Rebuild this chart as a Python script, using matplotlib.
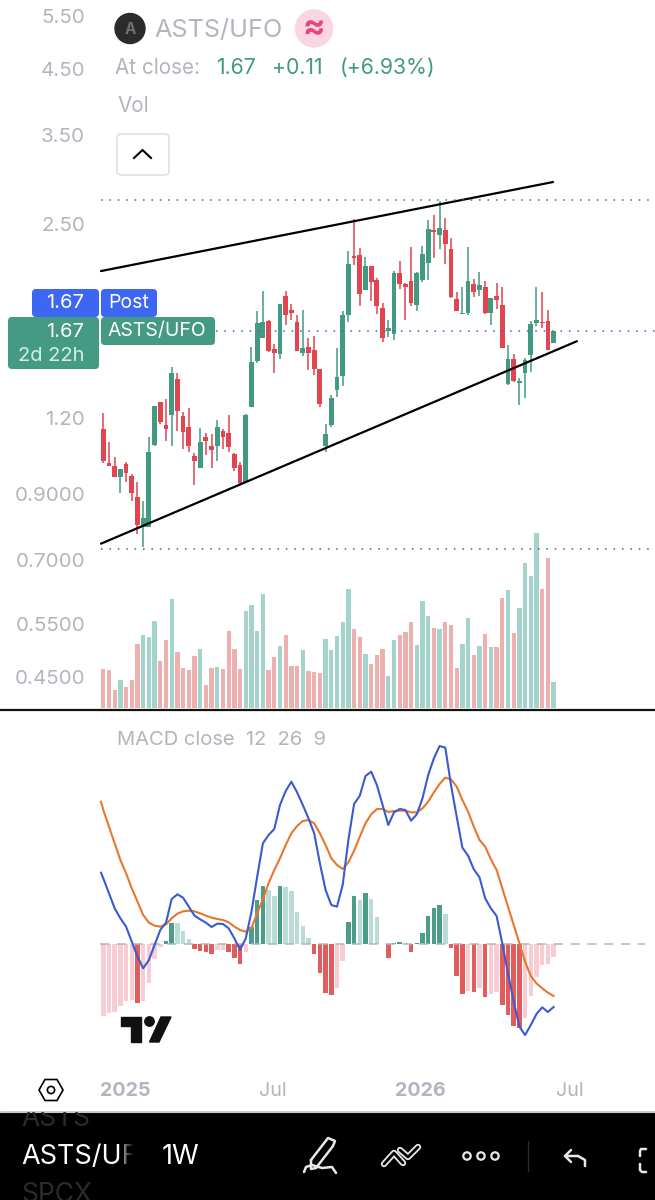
import matplotlib
matplotlib.use("Agg")
import matplotlib.pyplot as plt
from matplotlib.patches import Circle, FancyBboxPatch, Polygon, Rectangle
from matplotlib.ticker import NullLocator, NullFormatter

plt.rcParams['font.family'] = ['Inter', 'DejaVu Sans']

# weekly candles, ASTS/UFO
opens = [1.150,1.010,0.998,0.958,1.007,0.964,0.888,0.793,0.793,1.082,
         1.272,1.168,1.212,1.390,1.208,1.157,1.039,0.994,1.117,1.077,
         1.079,1.143,1.131,1.046,1.004,0.942,1.252,1.490,1.625,1.733,
         1.557,1.527,1.905,1.805,1.723,1.532,1.571,1.551,1.442,1.078,
         1.168,1.333,1.405,1.770,2.218,2.226,1.947,2.135,2.022,1.817,
         1.669,1.648,2.076,1.991,2.012,1.840,2.022,2.159,2.444,2.402,
         2.444,2.272,1.882,1.777,1.782,1.991,1.947,1.972,1.786,1.904,
         1.842,1.362,1.500,1.370,1.424,1.520,1.718,1.727,1.731,1.594]
highs = [1.221,1.096,1.036,0.987,1.016,0.970,0.942,0.877,1.117,1.255,
         1.272,1.289,1.457,1.420,1.225,1.244,1.051,1.156,1.134,1.128,
         1.188,1.149,1.213,1.051,1.016,1.218,1.567,1.795,1.942,1.738,
         1.584,1.850,1.940,1.850,1.770,1.805,1.621,1.638,1.444,1.172,
         1.308,1.561,1.795,2.260,2.544,2.283,2.204,2.135,2.038,1.854,
         1.738,2.092,2.170,1.996,2.289,2.081,2.303,2.538,2.586,2.730,
         2.560,2.374,1.935,1.967,2.294,2.027,2.086,2.017,1.892,1.996,
         1.972,1.580,1.526,1.397,1.507,1.733,1.967,1.935,1.805,1.667]
lows = [1.013,1.000,0.958,0.904,0.942,0.876,0.773,0.735,0.793,1.078,
        1.172,1.100,1.078,1.143,1.065,1.055,0.930,0.991,1.042,0.994,
        1.020,1.065,1.055,0.982,0.930,0.938,1.252,1.475,1.621,1.541,
        1.424,1.502,1.705,1.738,1.545,1.517,1.438,1.412,1.252,1.055,
        1.157,1.300,1.354,1.727,2.141,1.835,1.947,1.866,1.777,1.599,
        1.632,1.611,1.952,1.738,1.835,1.800,2.009,2.022,2.195,2.277,
        2.149,1.892,1.795,1.775,1.770,1.899,1.904,1.777,1.705,1.810,
        1.561,1.358,1.375,1.260,1.292,1.429,1.699,1.684,1.553,1.594]
closes = [1.020,1.000,0.958,0.987,0.975,0.904,0.800,0.820,1.055,1.255,
          1.183,1.152,1.420,1.231,1.139,1.079,1.020,1.096,1.100,1.062,
          1.161,1.117,1.073,0.991,0.938,1.212,1.481,1.718,1.722,1.547,
          1.535,1.850,1.770,1.782,1.547,1.565,1.532,1.444,1.265,1.127,
          1.292,1.399,1.770,2.149,2.195,1.918,2.135,2.009,1.835,1.621,
          1.686,2.073,1.991,1.972,1.854,2.073,2.232,2.450,2.426,2.459,
          2.318,1.899,1.798,1.786,2.014,1.935,1.986,1.782,1.892,1.875,
          1.563,1.500,1.380,1.380,1.494,1.712,1.738,1.718,1.553,1.667]

# volume, relative units (no scale shown on the chart)
volumes = [118,115,55,84,64,83,193,220,212,262,
           142,203,326,169,121,115,155,177,70,121,
           122,118,232,177,118,291,309,230,341,113,
           152,185,219,126,126,175,111,108,106,207,
           175,217,259,358,236,213,161,133,158,177,
           95,203,220,227,257,190,321,275,239,236,
           257,249,121,192,269,158,185,222,183,182,
           329,355,224,299,436,395,526,356,449,79]

# MACD pane, relative units (no scale shown either)
macd = [197,152,107,77,52,7,-38,-73,-48,-3,
        42,64,135,149,139,112,85,74,64,51,
        61,60,47,17,-18,17,97,202,302,327,
        345,417,459,487,455,417,377,332,242,162,
        117,112,177,312,420,445,504,517,477,417,
        357,395,405,402,370,389,437,507,557,594,
        589,477,382,289,265,224,200,137,107,84,
        2,-88,-173,-248,-273,-243,-210,-190,-204,-189]
signal = [402,352,302,252,212,167,127,87,64,55,
          52,59,77,91,98,100,98,92,85,79,
          75,72,65,52,42,37,49,92,135,182,
          222,257,297,332,354,369,372,362,332,297,
          257,237,225,245,280,322,362,389,405,405,
          396,399,400,400,395,395,407,427,455,480,
          499,494,472,432,397,352,312,292,254,222,
          167,112,57,2,-53,-96,-118,-133,-146,-156]
hist = [-215,-206,-203,-186,-171,-168,-176,-170,-116,-46,
        -10,10,64,62,40,15,-16,-21,-24,-31,
        -18,-18,-24,-41,-60,-23,50,132,175,162,
        144,175,170,158,97,55,17,-30,-88,-148,
        -153,-131,-50,67,144,132,152,134,82,1,
        -41,2,7,2,-24,2,32,85,108,116,
        89,-13,-96,-150,-141,-144,-133,-158,-150,-143,
        -183,-214,-245,-251,-221,-155,-100,-63,-61,-38]
# both lines come in from the left edge of the plot, just before the first bar
lead_week = -0.4
lead_macd = 214
lead_signal = 427

price_ticks = [5.5, 4.5, 3.5, 2.5, 1.2, 0.9, 0.7, 0.55, 0.45]
price_labels = ['5.50', '4.50', '3.50', '2.50', '1.20', '0.9000', '0.7000', '0.5500', '0.4500']
time_ticks = [3.8, 29.8, 55.6, 81.9]
time_labels = ['2025', 'Jul', '2026', 'Jul']

# drawn trendlines and levels: (week, price)
upper_trend = ([-0.4, 78.9], [2.092, 2.931])
lower_trend = ([-0.4, 83.1], [0.745, 1.604])
level_high = 2.74
level_low = 0.731
last_price = 1.67

GREEN = '#429a83'
RED = '#e04550'
TEAL_VOL = '#a3d3cb'
PINK_VOL = '#eeb0ae'
HIST_COLORS = {'up_dark': '#4b9c88', 'up_light': '#b9dcd5', 'dn_dark': '#e25c5c', 'dn_light': '#f8ccd3'}
GREY = '#b2b5be'

W, H = 655, 1200
fig = plt.figure(figsize=(W / 100, H / 100), dpi=100, facecolor='white')


def pane(top, bottom):
    return [0, 1 - bottom / H, 1, (bottom - top) / H]


weeks = list(range(len(closes)))
xlim = (-18.12, 96.79)
is_up = [c >= o for o, c in zip(opens, closes)]

# volume first so it sits under the candles
ax_vol = fig.add_axes(pane(0, 708))
ax_vol.bar(weeks, volumes, width=0.75, color=[TEAL_VOL if u else PINK_VOL for u in is_up])
ax_vol.set_xlim(xlim)
ax_vol.set_ylim(0, 2124)
ax_vol.axis('off')

ax = fig.add_axes(pane(0, 708))
ax.patch.set_visible(False)
ax.set_yscale('log')
candle_colors = [GREEN if u else RED for u in is_up]
ax.vlines(weeks, lows, highs, colors=candle_colors, lw=1.1)
ax.bar(weeks, [abs(c - o) for o, c in zip(opens, closes)],
       bottom=[min(o, c) for o, c in zip(opens, closes)],
       width=0.84, color=candle_colors)
ax.plot(*upper_trend, color='black', lw=1.6, solid_capstyle='round')
ax.plot(*lower_trend, color='black', lw=1.6, solid_capstyle='round')
for level in (level_high, level_low):
    ax.plot([-0.4, xlim[1]], [level, level], color='#555b66', lw=1.1, ls=(0, (1, 4.5)))
ax.plot([19.7, xlim[1]], [last_price, last_price], color='#3a5fd0', lw=1.1, ls=(0, (1, 4.5)))
ax.set_xlim(xlim)
ax.set_ylim(0.3998, 5.84)
ax.set_yticks(price_ticks, price_labels)
ax.yaxis.set_minor_locator(NullLocator())
ax.yaxis.set_minor_formatter(NullFormatter())
ax.tick_params(axis='y', length=0, pad=-61.2, labelsize=14.8, labelcolor=GREY)
ax.set_xticks([])
for s in ax.spines.values():
    s.set_visible(False)

# MACD pane
ax_m = fig.add_axes(pane(712, 1075))
hist_colors = []
for i, v in enumerate(hist):
    prev = hist[i - 1] if i else v
    if v >= 0:
        hist_colors.append(HIST_COLORS['up_dark'] if v > prev else HIST_COLORS['up_light'])
    else:
        hist_colors.append(HIST_COLORS['dn_dark'] if v < prev else HIST_COLORS['dn_light'])
ax_m.axhline(0, xmin=0.153, xmax=0.985, color=GREY, lw=1.1, ls=(0, (6, 5)))
ax_m.bar(weeks, hist, width=0.78, color=hist_colors)
ax_m.plot([lead_week] + weeks, [lead_signal] + signal, color='#e8772e', lw=1.5)
ax_m.plot([lead_week] + weeks, [lead_macd] + macd, color='#3a5bd0', lw=1.5)
ax_m.set_xlim(xlim)
ax_m.set_ylim(-393, 696)
ax_m.set_yticks([])
ax_m.set_xticks(time_ticks, time_labels)
ax_m.tick_params(axis='x', length=0, pad=5, labelsize=14.2, labelcolor=GREY)
for lab in ax_m.get_xticklabels():
    if lab.get_text().startswith('20'):
        lab.set_fontweight('bold')
for s in ax_m.spines.values():
    s.set_visible(False)

# app chrome, in screen pixels
ui = fig.add_axes([0, 0, 1, 1], zorder=10)
ui.set_xlim(0, W)
ui.set_ylim(H, 0)
ui.axis('off')
ui.patch.set_visible(False)


def box(x0, y0, x1, y1, color, ec='none', r=3, lw=0):
    ui.add_patch(FancyBboxPatch((x0 + r, y0 + r), x1 - x0 - 2 * r, y1 - y0 - 2 * r,
                                boxstyle=f'round,pad={r},rounding_size={r}',
                                fc=color, ec=ec, lw=lw))


ui.plot([0, W], [709.5, 709.5], color='#111111', lw=1.6)

# legend block
ui.add_patch(Circle((130, 28.5), 15, color='#2b2b2b'))
ui.text(130, 29, 'A', color='#6f6f6f', fontsize=11, fontweight='bold', ha='center', va='center')
ui.text(154, 30, 'ASTS/UFO', color=GREY, fontsize=18.2, va='center')
ui.add_patch(Circle((314, 28.5), 18.5, color='#f9d6e2'))
ui.text(314, 28, '≈', color='#e8457f', fontsize=24, fontweight='bold', ha='center', va='center')
ui.text(115, 68, 'At close:', color=GREY, fontsize=14.9, va='center')
ui.text(216, 68, '1.67', color=GREEN, fontsize=15.3, va='center')
ui.text(272, 68, '+0.11', color=GREEN, fontsize=15.3, va='center')
ui.text(340, 68, '(+6.93%)', color=GREEN, fontsize=15.3, va='center')
ui.text(117, 106, 'Vol', color=GREY, fontsize=14.9, va='center')
box(117, 134, 169, 175, 'white', ec='#dcdce0', r=4, lw=1.1)
ui.plot([134, 142.5, 151], [158, 150, 158], color='black', lw=1.5)

# price tags
box(32, 289, 99, 317, '#3d66f2', r=4)
box(101, 289, 157, 317, '#3d66f2', r=4)
box(8, 317, 99, 369, '#459a83', r=4)
box(101, 317, 215, 345, '#459a83', r=4)
ui.text(84, 303, '1.67', color='white', fontsize=14.5, ha='right', va='center')
ui.text(108, 303, 'Post', color='white', fontsize=14, va='center')
ui.text(84, 332, '1.67', color='white', fontsize=14.5, ha='right', va='center')
ui.text(84, 356, '2d 22h', color='#d5eee6', fontsize=14.5, ha='right', va='center')
ui.text(108, 331, 'ASTS/UFO', color='white', fontsize=14, va='center')

ui.text(117, 740, 'MACD close  12  26  9', color=GREY, fontsize=14.5, va='center')

# tradingview mark
ui.add_patch(Polygon([(120.5, 1017), (141, 1017), (141, 1042), (131, 1042), (131, 1026), (120.5, 1026)], color='#111111'))
ui.add_patch(Circle((149.5, 1021.5), 4.7, color='#111111'))
ui.add_patch(Polygon([(161, 1017), (171, 1017), (159, 1042), (149.5, 1042)], color='#111111'))

# settings hexagon
ui.add_patch(Polygon([(39, 1090), (45, 1079.5), (57, 1079.5), (63, 1090), (57, 1100.5), (45, 1100.5)],
                     fc='white', ec='black', lw=1.2))
ui.add_patch(Circle((51, 1090), 3.6, fc='white', ec='black', lw=1.2))

# bottom bar
bar = Rectangle((0, 1112), W, 88, color='black', zorder=0)
ui.add_patch(bar)
ui.plot([0, W], [1112, 1112], color='#c9c9cc', lw=0.8)
for y, name in ((1119, 'ASTS'), (1195, 'SPCX')):
    ghost = ui.text(21, y, name, color='#2b2b2b', fontsize=19, va='center')
    ghost.set_clip_on(True)
    ghost.set_clip_path(bar)
ui.text(21, 1157, 'ASTS/UF', color='white', fontsize=19.5, va='center')
# the symbol name fades out into the bar
for i in range(8):
    ui.add_patch(Rectangle((119 + i * 2, 1140), 2, 34, color='black', alpha=min(1, 0.25 + i * 0.11), lw=0, zorder=5))
ui.add_patch(Rectangle((135, 1140), 20, 34, color='black', lw=0, zorder=5))
ui.text(162, 1157, '1W', color='white', fontsize=19.5, va='center', zorder=6)

# toolbar icons
ic = dict(color='#e8e8e8', lw=1.8, solid_capstyle='round', solid_joinstyle='round')
ui.plot([311, 328, 335, 333, 316, 311, 311], [1160, 1138, 1141, 1146, 1168, 1169, 1160], **ic)
ui.plot([304, 306, 312, 322, 332, 336], [1172, 1167, 1165, 1168, 1167, 1173], **ic)
for xs, ys in (([384, 394, 403], [1164, 1153, 1163]), ([400, 408, 418], [1150, 1157, 1147])):
    ui.plot(xs, ys, color='#e8e8e8', lw=4.6, solid_capstyle='round', solid_joinstyle='round')
    ui.plot(xs, ys, color='black', lw=2, solid_capstyle='round', solid_joinstyle='round')
for cx in (467, 481, 495):
    ui.add_patch(Circle((cx, 1156), 3.7, fc='black', ec='#e8e8e8', lw=1.6))
ui.plot([528, 528], [1141, 1171], color='#2a2a2a', lw=1)
ui.plot([571, 565, 571], [1150, 1156, 1162], **ic)
ui.plot([565, 578, 585, 585], [1156, 1156, 1160, 1166], **ic)
ui.plot([646, 641, 640, 640], [1149, 1149, 1151, 1156], **ic)
ui.plot([640, 640, 642, 646], [1164, 1170, 1172, 1172], **ic)

fig.savefig('out.png', dpi=100, facecolor='white')
